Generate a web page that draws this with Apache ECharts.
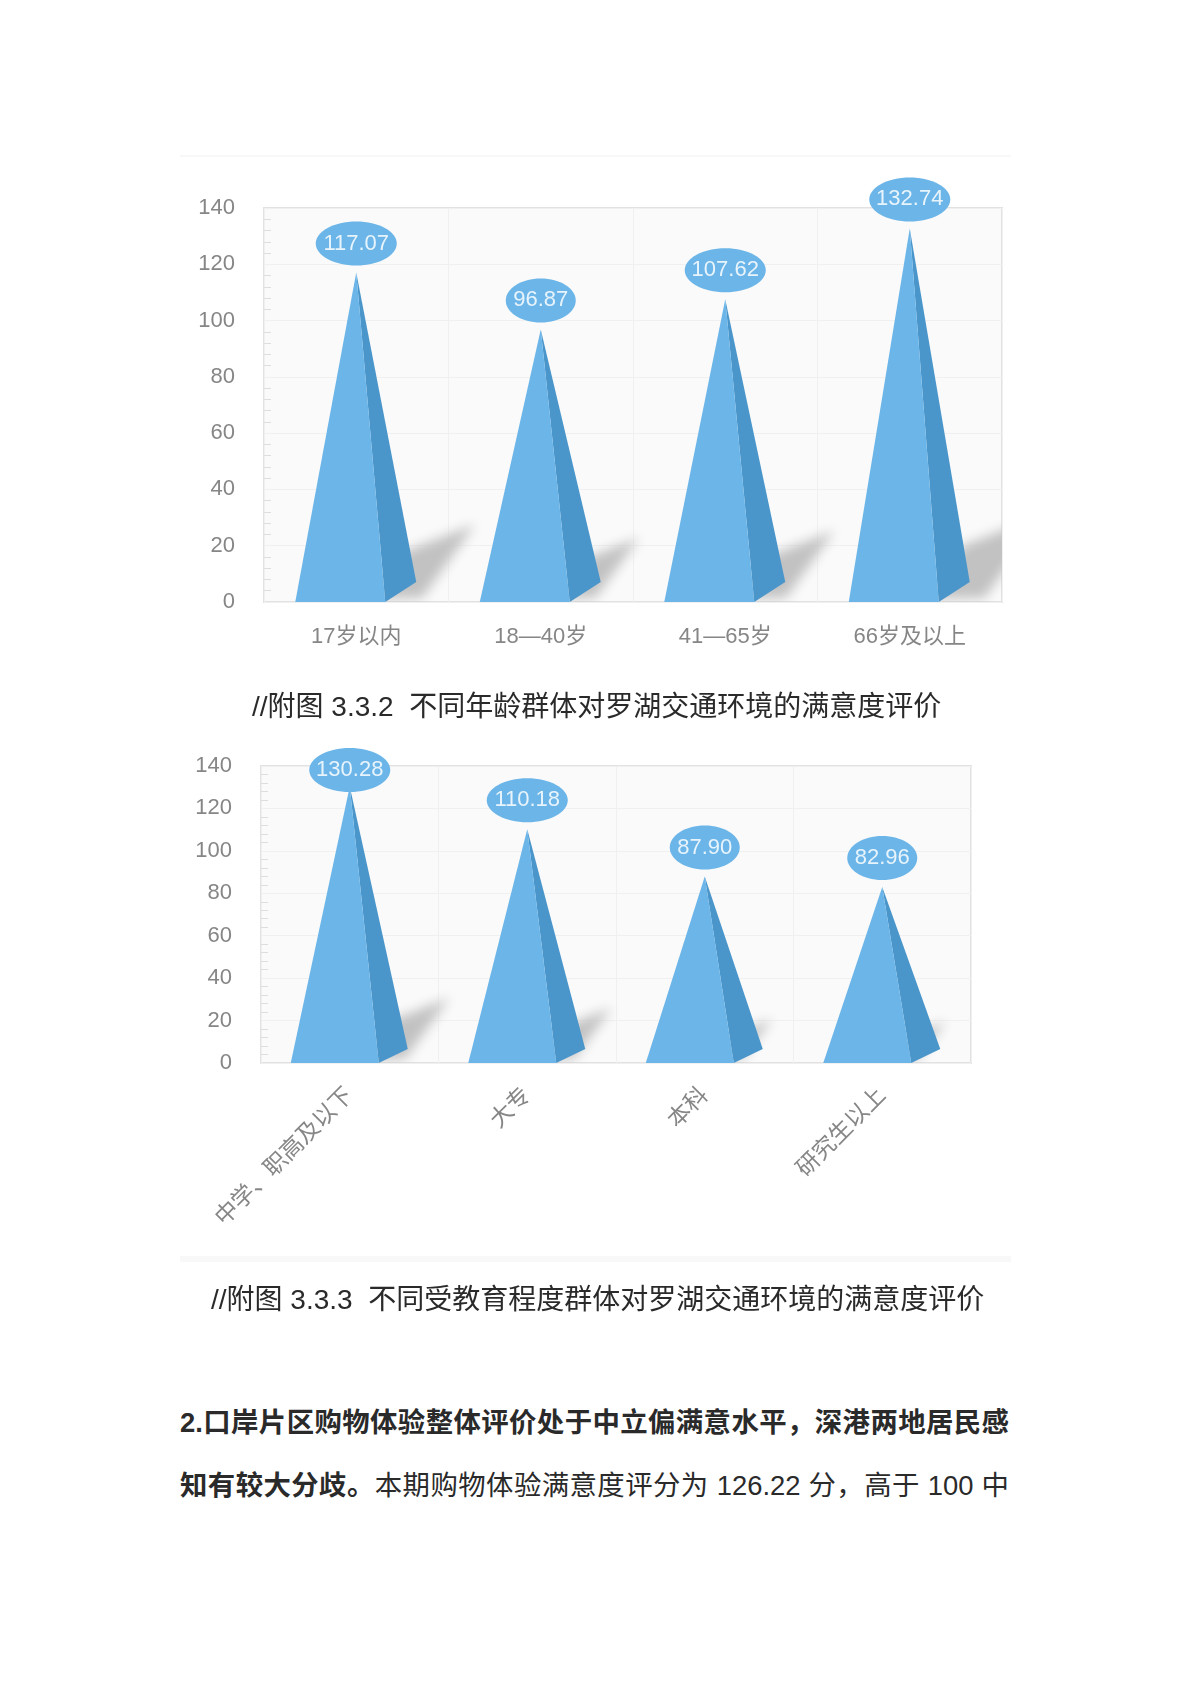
<!DOCTYPE html>
<html><head><meta charset="utf-8">
<script src="https://cdn.jsdelivr.net/npm/echarts@6/dist/echarts.min.js"></script>
<style>
html,body{margin:0;padding:0;background:#fff;width:1189px;height:1683px;overflow:hidden}
#chart{position:absolute;left:0;top:0;width:1189px;height:1340px;filter:blur(0.7px)}
.t{position:absolute;font-family:"Liberation Sans","Noto Sans CJK SC",sans-serif;font-size:28px;line-height:40px;color:#2a2a2a;white-space:pre}
.j{text-align:justify;text-align-last:justify;white-space:normal;left:180px;width:829px;font-size:27.4px}
.rule{position:absolute;left:180px;width:831px;background:#f8f8f8}
</style></head><body>
<div class="rule" style="top:155px;height:2px"></div>
<div class="rule" style="top:1256px;height:6px"></div>
<div id="chart"></div>
<div class="t" id="cap1" style="left:252px;top:687px"></div>
<div class="t" id="cap2" style="left:211px;top:1280px"></div>
<div class="t j" id="line1" style="top:1403px;font-weight:bold"></div>
<div class="t j" id="line2" style="top:1466px"></div>
<script>
const ageCategories = ['17岁以内','18—40岁','41—65岁','66岁及以上'];
const ageValues = [117.07, 96.87, 107.62, 132.74];
const eduCategories = ['中学、职高及以下','大专','本科','研究生以上'];
const eduValues = [130.28, 110.18, 87.90, 82.96];
const yTicks = {min:0, max:140, interval:20};
const caption1 = '//附图 3.3.2  不同年龄群体对罗湖交通环境的满意度评价';
const caption2 = '//附图 3.3.3  不同受教育程度群体对罗湖交通环境的满意度评价';
const bodyLine1 = '2.口岸片区购物体验整体评价处于中立偏满意水平，深港两地居民感';
const bodyLine2Bold = '知有较大分歧。';
const bodyLine2 = '本期购物体验满意度评分为 126.22 分，高于 100 中';

document.getElementById('cap1').textContent = caption1;
document.getElementById('cap2').textContent = caption2;
document.getElementById('line1').textContent = bodyLine1;
document.getElementById('line2').innerHTML = '<b>'+bodyLine2Bold+'</b>'+bodyLine2;

const FRONT='#6bb5e8', SIDE='#4a96cb';
const OFF=3000;
function pts(api){
  const i=api.value(0), v=api.value(1);
  const top=api.coord([i,v]), base=api.coord([i,0]);
  return {i,v,x:top[0],ty:top[1],by:base[1]};
}
function shadowItem(){
  return function(params,api){
    const p=pts(api), h=p.by-p.ty;
    // the shape sits off-canvas: only its soft drop shadow lands in the plot
    const poly=[[p.x+0.14*h,p.by-0.15*h],[p.x+0.36*h,p.by-0.235*h],[p.x+0.2*h,p.by-4],[p.x+20,p.by-3]]
      .map(q=>[q[0]-OFF,q[1]]);
    return {type:'polygon',shape:{points:poly},
      style:{fill:'#000',shadowBlur:12,shadowColor:'#c2c2c2',shadowOffsetX:OFF}};
  };
}
function pyramidItem(o){
  return function(params,api){
    const p=pts(api);
    const txt=p.v.toFixed(2);
    const w=txt.length>5?81:70, cy=Math.max(p.ty-o.gap,o.minY);
    return {type:'group',children:[
      {type:'polygon',shape:{points:[[p.x,p.ty],[p.x+o.r,p.by],[p.x+o.back,p.by-o.rise]]},style:{fill:SIDE}},
      {type:'polygon',shape:{points:[[p.x,p.ty],[p.x-o.l,p.by],[p.x+o.r,p.by]]},style:{fill:FRONT}},
      {type:'ellipse',shape:{cx:p.x,cy:cy,rx:w/2,ry:22},style:{fill:FRONT}},
      {type:'text',style:{text:txt,x:p.x,y:cy,align:'center',verticalAlign:'middle',fill:'#e8f4fc',
        font:'22px "Liberation Sans", sans-serif'}}
    ]};
  };
}
const labelColor='#868686', fontFam='"Liberation Sans","Noto Sans CJK SC",sans-serif';
function yAxis(idx){return {gridIndex:idx,type:'value',...yTicks,
  axisLine:{show:false},axisTick:{show:false,inside:true},
  minorTick:{show:true,splitNumber:5,length:7,lineStyle:{color:'#dedede'}},
  splitLine:{show:true,lineStyle:{color:'#f0f0f0'}},
  axisLabel:{color:labelColor,fontSize:22,margin:29,padding:[0,0,2,0],fontFamily:fontFam}};}
function xAxis(idx,cats,label){return {gridIndex:idx,type:'category',data:cats,
  axisLine:{show:false},axisTick:{show:false},
  splitLine:{show:true,lineStyle:{color:'#f0f0f0'}},
  axisLabel:Object.assign({color:labelColor,fontFamily:fontFam,interval:0},label)};}
function seriesFor(idx,vals,o){
  const data=vals.map((v,i)=>[i,v]);
  return [
    {type:'custom',xAxisIndex:idx,yAxisIndex:idx,clip:true,z:2,silent:true,data,encode:{x:0,y:1},renderItem:shadowItem()},
    {type:'custom',xAxisIndex:idx,yAxisIndex:idx,clip:false,z:3,silent:true,data,encode:{x:0,y:1},renderItem:pyramidItem(o)}
  ];
}
const chart=echarts.init(document.getElementById('chart'),null,{renderer:'canvas'});
chart.setOption({
  animation:false,backgroundColor:'transparent',
  grid:[
    {left:264,top:208,width:738,height:394,show:true,backgroundColor:'#fafafa',borderColor:'#e2e2e2',borderWidth:2},
    {left:261,top:766,width:710,height:297,show:true,backgroundColor:'#fafafa',borderColor:'#e2e2e2',borderWidth:2}
  ],
  xAxis:[xAxis(0,ageCategories,{fontSize:22,margin:24}),xAxis(1,eduCategories,{fontSize:23,margin:29,rotate:45})],
  yAxis:[yAxis(0),yAxis(1)],
  series:[...seriesFor(0,ageValues,{l:61,r:29,back:60,rise:20,gap:29,minY:0}),
          ...seriesFor(1,eduValues,{l:59,r:29,back:58,rise:14,gap:29,minY:770})]
});
</script></body></html>
